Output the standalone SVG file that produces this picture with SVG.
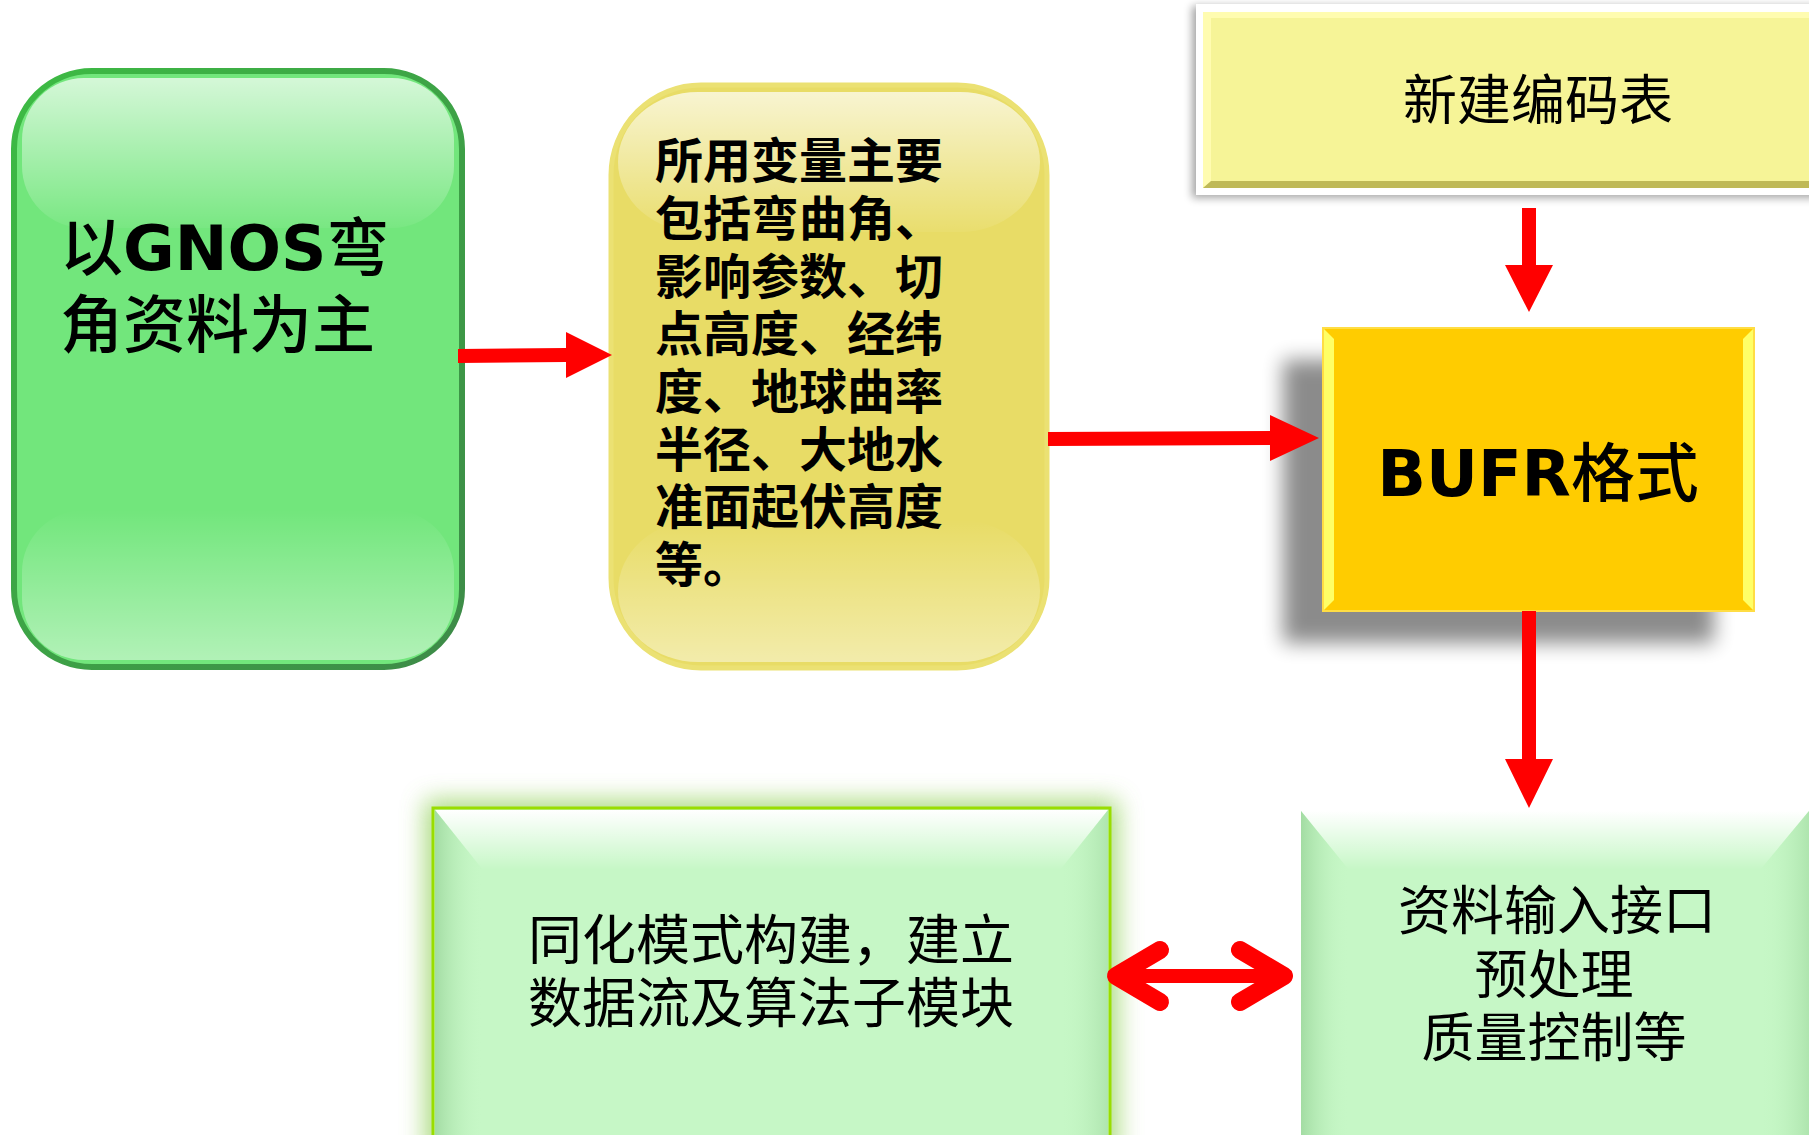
<svg xmlns="http://www.w3.org/2000/svg" width="1809" height="1135" viewBox="0 0 1809 1135">
<style>
.cjk{font-family:"Noto Sans CJK SC","Noto Sans",sans-serif;fill:#000}
.lat{font-family:"DejaVu Sans","Noto Sans CJK SC",sans-serif;font-weight:bold}
.red{fill:#ff0000}
</style>
<defs>
<linearGradient id="gStroke" x1="0" y1="0" x2="1" y2="1">
<stop offset="0" stop-color="#3dbb44"/><stop offset="1" stop-color="#3d8a48"/>
</linearGradient>
<linearGradient id="gTop" x1="0" y1="0" x2="0" y2="1">
<stop offset="0" stop-color="#ffffff" stop-opacity="0.7"/><stop offset="1" stop-color="#ffffff" stop-opacity="0.05"/>
</linearGradient>
<linearGradient id="gBot" x1="0" y1="0" x2="0" y2="1">
<stop offset="0" stop-color="#ffffff" stop-opacity="0"/><stop offset="1" stop-color="#ffffff" stop-opacity="0.45"/>
</linearGradient>
<linearGradient id="bevTop" x1="0" y1="0" x2="0" y2="1">
<stop offset="0" stop-color="#ffffff" stop-opacity="1"/><stop offset="1" stop-color="#ffffff" stop-opacity="0"/>
</linearGradient>
<linearGradient id="bevL" x1="0" y1="0" x2="1" y2="0">
<stop offset="0" stop-color="#9fd99f" stop-opacity="0.9"/><stop offset="1" stop-color="#c6f7c6" stop-opacity="0"/>
</linearGradient>
<linearGradient id="bevR" x1="1" y1="0" x2="0" y2="0">
<stop offset="0" stop-color="#9fd99f" stop-opacity="0.6"/><stop offset="1" stop-color="#c6f7c6" stop-opacity="0"/>
</linearGradient>
<filter id="shadow" x="-20%" y="-20%" width="140%" height="140%">
<feGaussianBlur stdDeviation="10"/>
</filter>
<filter id="soft" x="-10%" y="-10%" width="120%" height="140%">
<feGaussianBlur stdDeviation="4"/>
</filter>
<filter id="glow" x="-10%" y="-10%" width="120%" height="120%">
<feGaussianBlur stdDeviation="12"/>
</filter>
</defs>

<g id="node-gnos">
<rect x="14" y="71" width="448" height="596" rx="78" fill="#72e67c" stroke="url(#gStroke)" stroke-width="6"/>
<rect x="22" y="78" width="432" height="150" rx="62" fill="url(#gTop)"/>
<rect x="22" y="510" width="432" height="150" rx="62" fill="url(#gBot)"/>
<text x="60" y="270" class="cjk" font-size="63"><tspan font-weight="500">以</tspan><tspan class="lat" font-size="63">GNOS</tspan><tspan font-weight="500">弯</tspan></text>
<text x="60" y="347" class="cjk" font-size="63" font-weight="500">角资料为主</text>
</g>

<g id="node-vars">
<rect x="611" y="85" width="436" height="583" rx="90" fill="#e8dc66" stroke="#ebe173" stroke-width="5"/>
<rect x="618" y="92" width="422" height="140" rx="80" fill="url(#gTop)"/>
<rect x="618" y="520" width="422" height="142" rx="80" fill="url(#gBot)"/>
<g class="cjk" font-size="48" font-weight="bold">
<text x="655" y="178">所用变量主要</text>
<text x="655" y="236">包括弯曲角、</text>
<text x="655" y="294" textLength="288">影响参数、切</text>
<text x="655" y="351" textLength="288">点高度、经纬</text>
<text x="655" y="409" textLength="288">度、地球曲率</text>
<text x="655" y="467" textLength="288">半径、大地水</text>
<text x="655" y="524">准面起伏高度</text>
<text x="655" y="582">等。</text>
</g>
</g>

<g id="node-table">
<rect x="1192" y="6" width="650" height="192" fill="#000" opacity="0.35" filter="url(#soft)"/>
<rect x="1196" y="4" width="640" height="191" fill="#ffffff"/>
<rect x="1203" y="12" width="620" height="176" fill="#f6f497"/>
<polygon points="1203,12 1823,12 1823,18 1211,18 1211,182 1203,188" fill="#fffcb0"/>
<polygon points="1203,188 1211,181 1823,181 1823,188" fill="#bfb957"/>
<text x="1538" y="120" class="cjk" font-size="54" text-anchor="middle">新建编码表</text>
</g>

<g id="node-bufr">
<rect x="1283" y="360" width="431" height="283" fill="#000" opacity="0.45" filter="url(#shadow)"/>
<rect x="1323" y="328" width="431" height="283" fill="#ffcc00" stroke="#ffdd44" stroke-width="2"/>
<polygon points="1324,329 1334,339 1334,600 1324,610" fill="#ffff66"/>
<polygon points="1753,329 1743,339 1743,600 1753,610" fill="#ffff66"/>
<text x="1538" y="496" class="cjk" font-size="64" text-anchor="middle"><tspan class="lat">BUFR</tspan><tspan font-weight="500">格式</tspan></text>
</g>

<g id="node-assim">
<rect x="425" y="800" width="693" height="360" fill="#8fcf55" opacity="0.75" filter="url(#glow)"/>
<rect x="433" y="808" width="677" height="340" fill="#c6f7c6" stroke="#99dd00" stroke-width="3"/>
<polygon points="435,810 1108,810 1060,870 483,870" fill="url(#bevTop)"/>
<polygon points="435,810 483,870 483,1140 435,1140" fill="url(#bevL)"/>
<polygon points="1108,810 1060,870 1060,1140 1108,1140" fill="url(#bevR)"/>
<text x="771" y="960" class="cjk" font-size="54" text-anchor="middle">同化模式构建，建立</text>
<text x="771" y="1023" class="cjk" font-size="54" text-anchor="middle">数据流及算法子模块</text>
</g>

<g id="node-input">
<rect x="1301" y="811" width="520" height="330" fill="#c6f7c6"/>
<polygon points="1301,811 1809,811 1760,870 1349,870" fill="url(#bevTop)"/>
<polygon points="1301,811 1349,870 1349,1140 1301,1140" fill="url(#bevL)"/>
<polygon points="1809,811 1760,870 1760,1140 1809,1140" fill="url(#bevR)"/>
<text x="1557" y="930" class="cjk" font-size="53" text-anchor="middle">资料输入接口</text>
<text x="1554" y="994" class="cjk" font-size="53" text-anchor="middle">预处理</text>
<text x="1554" y="1057" class="cjk" font-size="53" text-anchor="middle">质量控制等</text>
</g>

<g id="connectors">
<polygon class="red" points="458,349 566,348 566,332 612,355 566,378 566,362 458,363"/>
<polygon class="red" points="1048,432 1270,431 1270,415 1319,438 1270,461 1270,445 1048,446"/>
<polygon class="red" points="1522,208 1536,208 1536,265 1553,265 1529,312 1505,265 1522,265"/>
<polygon class="red" points="1522,611 1536,611 1536,759 1553,759 1529,808 1505,759 1522,759"/>
<g fill="none" stroke="#ff0000" stroke-linecap="round" stroke-linejoin="round">
<line x1="1120" y1="976" x2="1280" y2="976" stroke-width="14"/>
<polyline points="1160,950 1116,976 1160,1002" stroke-width="18"/>
<polyline points="1240,950 1284,976 1240,1002" stroke-width="18"/>
</g>
</g>
</svg>
